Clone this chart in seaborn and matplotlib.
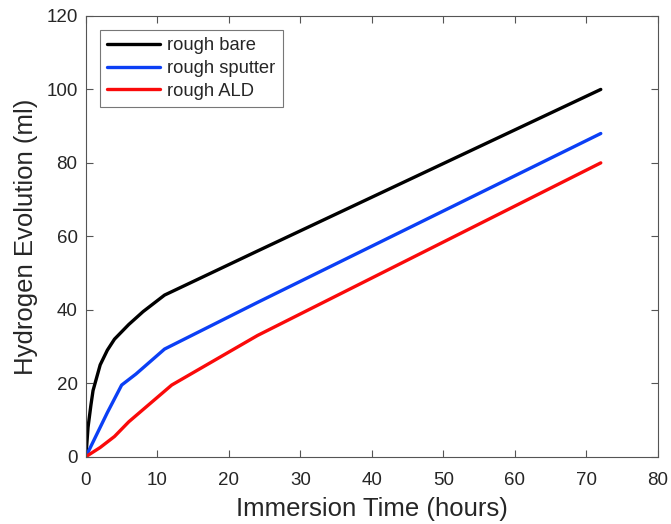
import numpy as np
import pandas as pd
import matplotlib
matplotlib.use("Agg")
import matplotlib.pyplot as plt
import seaborn as sns

# values
bare_t = [0, 0.3, 0.7, 1, 2, 3, 4, 5, 6, 8, 11, 24, 72]
bare_v = [0, 8, 14, 18, 25, 29, 32, 34, 36, 39.5, 44, 56, 100]
sputter_t = [0, 1, 3, 5, 7, 11, 24, 72]
sputter_v = [0, 4, 12, 19.5, 22.5, 29.3, 42, 88]
ald_t = [0, 2, 4, 6, 12, 24, 72]
ald_v = [0, 2.5, 5.5, 9.5, 19.5, 33, 80]

labels = ["rough bare", "rough sputter", "rough ALD"]
colors = ["#000000", "#0b3ff5", "#fa0a0a"]

frames = []
for lab, t, v in zip(labels, [bare_t, sputter_t, ald_t], [bare_v, sputter_v, ald_v]):
    frames.append(pd.DataFrame({"time": t, "h2": v, "sample": lab}))
df = pd.concat(frames, ignore_index=True)

sns.set_style("white")
plt.rcParams['font.family'] = ['Liberation Sans', 'DejaVu Sans']

fig = plt.figure(figsize=(6.71, 5.24), dpi=100)
ax = fig.add_axes([0.128, 0.1285, 0.8526, 0.841])

sns.lineplot(data=df, x="time", y="h2", hue="sample", palette=colors,
             hue_order=labels, linewidth=2.4, ax=ax, sort=False)

ax.set_xlim(0, 80)
ax.set_ylim(0, 120)
ax.set_xticks(np.arange(0, 81, 10))
ax.set_yticks(np.arange(0, 121, 20))
ax.tick_params(direction="in", length=5, width=0.8, labelsize=13.5,
               colors="#555555", labelcolor="#262626",
               top=True, right=True, bottom=True, left=True)
ax.tick_params(axis="x", pad=11)
ax.tick_params(axis="y", pad=6)
for s in ax.spines.values():
    s.set_color("#555555")
    s.set_linewidth(0.8)
ax.set_xlabel("Immersion Time (hours)", fontsize=18.5, color="#262626", labelpad=6)
ax.set_ylabel("Hydrogen Evolution (ml)", fontsize=18.5, color="#262626", labelpad=6)

leg = ax.legend(loc="upper left", fontsize=13.2, frameon=True, fancybox=False,
                edgecolor="#555555", handlelength=2.9, borderaxespad=0.75,
                labelspacing=0.32, handletextpad=0.4, borderpad=0.4)
leg.get_frame().set_linewidth(0.8)

fig.savefig("out.png", dpi=100)
